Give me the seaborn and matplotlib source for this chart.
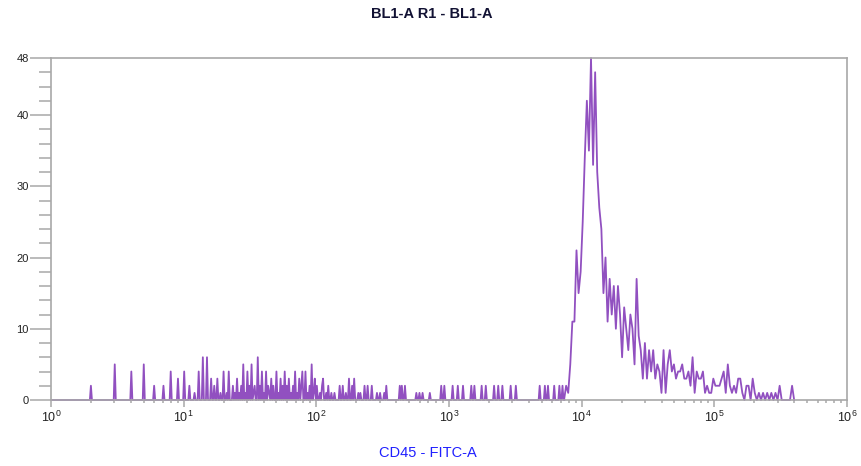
import numpy as np
import pandas as pd
import matplotlib
matplotlib.use("Agg")
import matplotlib.pyplot as plt
import seaborn as sns
from matplotlib.ticker import FixedLocator, LogLocator, LogFormatterSciNotation, NullFormatter, MultipleLocator


#------------------------------Data------------------------------#

channels_per_decade = 64   # resolution of the CD45+ population
fine_per_decade = 128      # finer bins for the sparse low-intensity events
peak_first_bin = 248       # population starts at 10^(248/64) ~ 7500
n_edges = 360              # bins run up to ~4e5

# isolated events at low intensity (channel value, count)
low_x = [2, 3, 4, 5, 6, 7, 8, 9, 10, 11, 12, 13, 14, 15, 16, 17, 18, 19]
low_n = [2, 5, 4, 5, 2, 2, 4, 3, 4, 2, 1, 4, 6, 6, 3, 2, 3, 1]

# busy stretch from channel 20 up to ~130, one count per consecutive coarse bin
mid_start = 20
mid_counts = [4, 1, 4, 0, 2, 1, 3, 1, 2, 5,
              1, 4, 2, 5, 1, 2, 6, 2, 4, 1,
              4, 2, 1, 3, 2, 4, 1, 3, 2, 4,
              2, 3, 1, 2, 4, 1, 3, 2, 4, 4,
              1, 2, 5, 1, 3, 2, 1, 2, 3, 1,
              2, 0, 1]

# scattered events between ~130 and ~7500
scat_x = [137, 150, 159, 166, 176, 187, 194, 206, 215, 231,
          245, 260, 286, 300, 327, 337, 424, 443, 462, 566,
          600, 635, 713, 873, 925, 1069, 1165, 1271, 1469, 1556,
          1747, 1905, 2202, 2333, 2543, 2940, 3207, 4803, 5236, 5546,
          6224, 6788, 7194]
scat_n = [1, 2, 2, 1, 3, 2, 3, 1, 1, 2,
          2, 2, 1, 1, 1, 2, 2, 2, 2, 1,
          1, 1, 1, 2, 2, 2, 2, 2, 2, 2,
          2, 2, 2, 2, 2, 2, 2, 2, 2, 2,
          2, 2, 2]

# CD45 positive population, consecutive bins from channel 7600 upwards
peak_start = 7600
peak_counts = [2, 1, 5, 11, 11, 21, 15, 18, 25, 34,
               42, 35, 48, 33, 46, 32, 27, 24, 15, 20,
               11, 17, 12, 16, 10, 16, 12, 6, 13, 10,
               7, 12, 10, 5, 17, 9, 7, 3, 8, 3,
               7, 4, 7, 3, 5, 4, 1, 7, 1, 5,
               7, 4, 5, 3, 4, 4, 5, 3, 3, 4,
               2, 6, 1, 4, 3, 3, 4, 1, 2, 1,
               1, 3, 2, 2, 2, 3, 4, 1, 5, 2,
               1, 2, 1, 3, 3, 1, 0, 2, 2, 0,
               3, 1, 0, 1, 0, 1, 0, 1, 0, 1,
               0, 1, 0, 2, 0, 0, 0, 0, 0, 2,
               0]

title = "BL1-A R1 - BL1-A"
xlabel = "CD45 - FITC-A"
yticks = [0, 10, 20, 30, 40, 48]
xticks = [1, 10, 100, 1000, 10000, 100000, 1000000]


#------------------------------Build event tables------------------------------#

edges = 10 ** (np.arange(n_edges) / channels_per_decade)
fine_edges = 10 ** (np.arange(peak_first_bin * 2 + 1) / fine_per_decade)


def run_of_bins(start, counts):
    """Place a run of counts on consecutive coarse bins, starting at the bin holding `start`."""
    first = np.searchsorted(edges, start, side="right") - 1
    idx = first + np.arange(len(counts))
    return np.sqrt(edges[idx] * edges[idx + 1]), np.asarray(counts)


mid_x, mid_n = run_of_bins(mid_start, mid_counts)
peak_x, peak_n = run_of_bins(peak_start, peak_counts)

low_events = pd.DataFrame({
    "channel": np.concatenate([low_x, mid_x, scat_x]),
    "count": np.concatenate([low_n, mid_n, scat_n]),
})
peak_events = pd.DataFrame({"channel": peak_x, "count": peak_n})


#------------------------------Plot------------------------------#

sns.set_style("white")
plt.rcParams["font.family"] = ["Liberation Sans", "DejaVu Sans"]
plt.rcParams["mathtext.fontset"] = "custom"
plt.rcParams["mathtext.rm"] = "Liberation Sans"

fig = plt.figure(figsize=(8.61, 4.66), dpi=100)
ax = fig.add_axes([51 / 861, 66 / 466, 796 / 861, 342 / 466])

purple = "#9150c0"
# bins handed over as plain lists (seaborn compares bins to "auto" when weights are used)
sns.histplot(data=low_events, x="channel", weights="count", bins=list(fine_edges),
             element="poly", fill=False, color=purple, linewidth=1.3, ax=ax)
sns.histplot(data=peak_events, x="channel", weights="count",
             bins=list(edges[peak_first_bin - 1:]),
             element="poly", fill=False, color=purple, linewidth=1.3, ax=ax)
for line in ax.lines:
    line.set_clip_on(False)

ax.set_xscale("log")
ax.set_xlim(1, 1e6)
ax.set_ylim(0, 48)
ax.set_xlabel("")
ax.set_ylabel("")

grey = "#a8a8a8"
for side in ["left", "right", "top", "bottom"]:
    ax.spines[side].set_visible(True)
    ax.spines[side].set_color(grey)
    ax.spines[side].set_linewidth(1.2)

ax.xaxis.set_major_locator(FixedLocator(xticks))
ax.xaxis.set_major_formatter(LogFormatterSciNotation())
ax.xaxis.set_minor_locator(LogLocator(base=10, subs=range(2, 10), numticks=20))
ax.xaxis.set_minor_formatter(NullFormatter())
ax.set_yticks(yticks)
ax.yaxis.set_minor_locator(MultipleLocator(2))

ax.tick_params(axis="x", which="major", bottom=True, length=5, width=1.1, color=grey,
               labelsize=9, labelcolor="#222222", pad=2)
ax.tick_params(axis="x", which="minor", bottom=True, length=2.5, width=1.1, color=grey)
ax.tick_params(axis="y", which="major", left=True, length=15, width=1.1, color=grey,
               labelsize=8, labelcolor="#222222", pad=1)
ax.tick_params(axis="y", which="minor", left=True, length=8.5, width=1.1, color=grey)

fig.text(432 / 861, 1 - 14 / 466, title, ha="center", va="center",
         fontsize=10.5, fontweight="bold", color="#111133")
fig.text(427.5 / 861, 1 - 453 / 466, xlabel, ha="center", va="center",
         fontsize=10.5, color="#2020ff")

fig.savefig("out.png", dpi=100)
